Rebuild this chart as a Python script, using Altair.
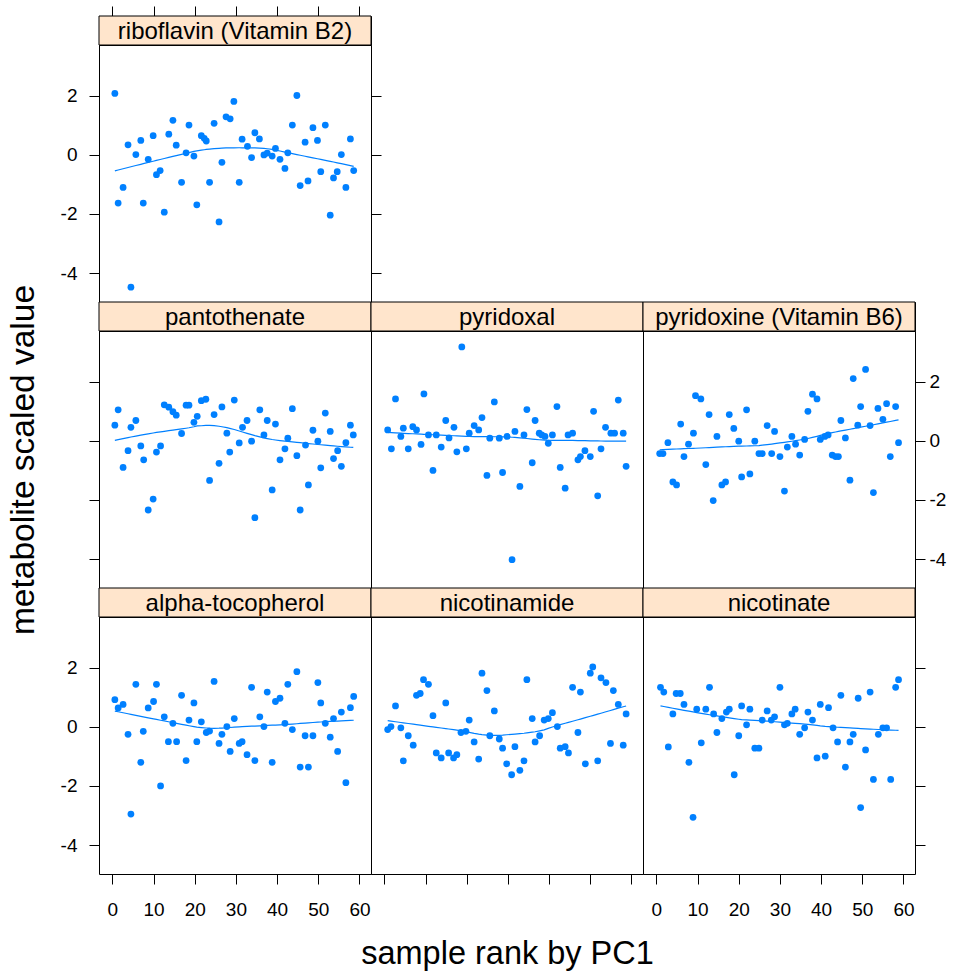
import altair as alt
import pandas as pd

# ---------------- data ----------------
ribo_x = [0.6,1.4,2.6,3.8,4.5,5.7,6.9,7.5,8.7,9.9,
          10.7,11.6,12.6,13.7,14.7,15.5,16.8,17.9,18.6,19.8,
          20.5,21.6,22.3,22.8,23.6,24.7,25.9,26.6,27.6,28.6,
          29.5,30.8,31.5,32.8,33.8,34.6,35.7,36.8,37.6,38.8,
          39.6,40.7,41.9,42.6,43.7,44.8,45.6,46.8,47.5,48.7,
          49.8,50.6,51.7,52.9,53.7,54.6,55.6,56.7,57.8,58.6]
ribo_y = [2.08,-1.63,-1.10,0.34,-4.48,0.01,0.49,-1.63,-0.15,0.65,
          -0.67,-0.53,-1.94,0.70,1.17,0.33,-0.93,0.07,1.01,-0.04,
          -1.69,0.65,0.56,0.47,-0.93,1.07,-2.27,-0.25,1.29,1.22,
          1.81,-0.93,0.53,0.29,-0.09,0.75,0.54,0.00,0.06,-0.04,
          0.22,-0.15,-0.46,0.07,1.01,2.01,-1.04,0.43,-0.88,0.92,
          0.49,-0.57,1.01,-2.04,-0.78,-0.57,0.01,-1.10,0.54,-0.53]

panto_x = [0.6,1.4,2.6,3.8,4.5,5.7,6.9,7.6,8.7,9.9,
           10.7,11.7,12.6,13.7,14.7,15.5,16.8,17.9,18.6,19.8,
           20.6,21.6,22.7,23.6,24.7,25.9,26.6,27.8,28.5,29.6,
           30.8,31.6,32.7,33.8,34.6,35.8,36.8,37.6,38.8,39.6,
           40.7,41.9,42.6,43.7,44.8,45.6,46.9,47.6,48.7,49.9,
           50.6,51.7,52.9,53.7,54.7,55.6,56.7,57.8,58.5]
panto_y = [0.53,1.05,-0.90,-0.33,0.46,0.69,-0.17,-0.64,-2.34,-1.97,
           -0.38,-0.17,1.22,1.14,0.99,0.87,0.25,1.21,1.21,0.63,
           0.83,1.36,1.41,-1.34,0.89,-0.76,1.15,0.26,-0.38,1.38,
           -0.07,0.46,0.69,-0.01,-2.60,1.05,0.20,0.69,-1.66,0.57,
           -0.64,-0.27,0.09,1.09,-0.50,-2.34,-0.14,-1.49,0.36,-0.01,
           -0.91,0.94,0.32,-0.60,-0.33,-0.86,-0.06,0.53,0.20]

pyral_x = [0.8,1.7,2.7,4.0,4.6,5.8,6.9,7.8,8.9,9.6,
           10.7,11.8,12.6,13.8,14.9,15.7,16.9,17.6,18.8,19.9,
           20.6,21.8,22.9,23.7,24.9,25.6,26.7,27.9,28.7,29.8,
           31.0,31.7,32.9,33.9,34.6,35.9,36.6,37.6,38.2,39.0,
           39.8,40.8,41.9,42.7,43.9,44.6,45.7,47.0,47.6,48.7,
           50.0,50.8,51.8,52.6,53.7,55.0,55.9,56.8,58.0,58.7]
pyral_y = [0.37,-0.27,1.42,0.15,0.43,-0.27,0.48,0.37,-0.12,1.59,
           0.20,-1.00,0.20,-0.21,0.69,0.10,0.46,-0.37,3.18,-0.27,
           0.26,0.52,0.37,0.79,-1.17,0.09,1.32,0.09,-1.07,0.15,
           -4.02,0.32,-1.54,0.20,1.06,-0.74,0.69,0.26,0.20,0.15,
           -0.08,0.20,1.16,-0.90,-1.60,0.20,0.26,-0.64,-0.53,-0.33,
           -0.53,1.00,-1.86,-0.27,0.46,0.26,0.26,1.38,0.26,-0.86]

pyrox_x = [0.8,1.6,2.8,4.0,4.9,5.9,6.7,7.8,9.0,9.5,
           10.8,12.0,12.8,13.8,14.7,15.9,16.8,17.7,18.8,20.0,
           20.7,21.9,22.7,23.9,24.9,25.7,26.9,28.0,28.7,30.0,
           31.1,31.8,32.9,33.8,34.8,36.0,36.8,37.9,39.0,39.8,
           40.9,41.7,42.7,43.5,44.2,44.8,45.9,47.0,47.8,48.9,
           49.6,50.8,51.9,52.7,53.8,55.0,55.9,56.8,58.1,58.8]
pyrox_y = [-0.43,-0.43,-0.06,-1.39,-1.49,0.57,-0.53,-0.11,0.26,1.53,
           1.42,-0.80,0.89,-2.02,0.15,-1.49,-1.39,0.89,0.42,-0.01,
           -1.22,1.05,-1.12,-0.01,-0.43,-0.43,0.52,-0.43,0.32,-0.53,
           -1.70,-0.21,0.15,-0.11,-0.48,0.05,1.00,1.58,1.42,0.05,
           0.15,0.20,-0.48,-0.53,-0.53,0.69,0.10,-1.33,2.11,0.53,
           1.16,2.42,0.52,-1.75,1.10,0.73,1.26,-0.53,1.16,-0.06]

atoc_x = [0.6,1.4,2.6,3.8,4.5,5.7,6.9,7.5,8.7,10.0,
          10.7,11.7,12.6,13.6,14.7,15.6,16.8,17.9,18.6,19.8,
          20.5,21.6,22.8,23.6,24.7,25.9,26.6,27.8,28.6,29.6,
          30.8,31.5,32.7,33.8,34.6,35.8,36.8,37.6,38.8,39.6,
          40.7,41.9,42.6,43.7,44.8,45.6,46.8,47.6,48.7,49.9,
          50.6,51.7,52.9,53.7,54.7,55.6,56.7,57.8,58.6]
atoc_y = [0.92,0.64,0.76,-0.25,-2.95,1.44,-1.20,-0.15,0.64,0.86,
          1.44,-2.00,0.34,-0.50,0.12,-0.50,1.07,-1.14,0.23,0.81,
          -0.50,0.17,-0.19,-0.14,1.54,-0.56,-0.25,0.01,-0.83,0.28,
          -0.56,-0.50,-0.94,1.34,-1.14,0.34,0.01,1.18,-1.20,0.86,
          0.97,0.12,1.44,-0.09,1.87,-1.36,-0.30,-1.36,-0.30,1.50,
          0.81,0.12,-0.35,0.28,-0.83,0.50,-1.89,0.65,1.03]

nicam_x = [0.8,1.6,2.7,4.0,4.6,5.8,7.0,7.8,8.7,9.5,
           10.7,11.8,12.6,13.8,14.9,15.6,16.8,17.6,18.6,19.8,
           20.6,21.8,22.9,23.7,24.9,25.6,26.7,27.9,28.7,29.7,
           30.9,31.7,32.9,33.9,34.6,35.9,36.6,37.7,38.8,39.8,
           40.8,42.0,42.7,43.9,44.7,45.7,47.0,47.6,48.8,50.0,
           50.6,51.8,52.6,53.8,54.9,55.6,56.8,58.0,58.7]
nicam_y = [-0.09,0.01,0.71,-0.03,-1.15,-0.30,-0.62,1.07,1.13,1.60,
           1.44,0.38,-0.88,-1.05,0.81,-0.88,-1.05,-0.94,-0.19,-0.15,
           0.23,-0.51,-1.09,1.82,1.23,-0.30,0.54,-0.41,-0.72,-1.25,
           -1.62,-0.67,-1.47,-1.15,1.60,0.28,-0.51,-0.30,0.23,0.28,
           0.48,0.01,-0.72,-0.67,-0.88,1.34,-0.19,1.18,-1.25,1.82,
           2.03,-1.15,1.66,1.50,-0.56,1.23,0.76,-0.62,0.44]

nicot_x = [1.0,1.8,2.9,4.0,4.8,5.8,6.7,7.9,8.9,9.8,
           10.9,12.0,12.9,13.9,14.7,15.9,17.0,17.7,18.9,20.0,
           20.7,21.9,22.7,23.9,24.9,25.7,26.9,27.9,28.7,30.0,
           31.1,31.8,32.9,33.7,34.8,36.0,36.8,37.9,39.0,39.8,
           41.0,41.8,42.9,44.0,44.8,45.9,47.0,47.8,49.0,49.6,
           50.8,51.9,52.7,53.9,55.0,55.9,56.9,58.1,58.8]
nicot_y = [1.34,1.18,-0.68,0.44,1.13,1.13,0.76,-1.20,-3.06,0.60,
           -0.54,0.60,1.34,0.44,-0.19,0.28,0.50,0.60,-1.62,-0.30,
           0.71,0.07,0.60,-0.72,-0.72,0.23,0.54,0.23,0.34,1.34,
           0.07,0.12,0.44,0.60,-0.25,-0.03,0.50,0.23,-1.05,0.76,
           -0.99,0.65,-0.03,-0.51,1.07,-1.36,-0.51,-0.25,0.97,-2.73,
           -0.78,1.18,-1.78,-0.25,-0.03,-0.03,-1.78,1.34,1.60]

x_ticks = [0, 10, 20, 30, 40, 50, 60]
y_ticks = [-4, -2, 0, 2]
x_title = "sample rank by PC1"
y_title = "metabolite scaled value"

# ---------------- styling ----------------
FONT = "Liberation Sans"
BLUE = "#0080ff"
STRIP = "#ffe5cc"
W, H, SH = 272, 257, 29
X_DOMAIN = [-3.25, 62.8]
Y_DOMAIN = [-4.98, 3.72]
xscale = alt.Scale(domain=X_DOMAIN, nice=False, zero=False)
yscale = alt.Scale(domain=Y_DOMAIN, nice=False, zero=False)
LABEL_EXPR = "'' + datum.value"
FRAME = alt.ViewBackground(stroke="black", strokeWidth=1)
NOFRAME = alt.ViewBackground(strokeOpacity=0)


def yaxis(orient, labels, title=None):
    kw = dict(orient=orient, values=y_ticks, labels=labels, labelExpr=LABEL_EXPR,
              tickSize=10, tickColor="black", tickWidth=1, domain=False, grid=False,
              labelFont=FONT, labelFontSize=19, labelColor="black",
              labelPadding=12 if orient == "left" else 4)
    if title:
        kw.update(title=title, titleFont=FONT, titleFontSize=33.5, titleFontWeight="normal",
                  titleColor="black", titlePadding=48)
    else:
        kw.update(title=None)
    return alt.Axis(**kw)


def xaxis(labels, title=None):
    kw = dict(orient="bottom", values=x_ticks, labels=labels, labelExpr=LABEL_EXPR,
              tickSize=10, tickColor="black", tickWidth=1, domain=False, grid=False,
              labelFont=FONT, labelFontSize=19, labelColor="black",
              labelPadding=16, labelFlush=False, labelOverlap=False)
    if title:
        kw.update(title=title, titleFont=FONT, titleFontSize=32.5, titleFontWeight="normal",
                  titleColor="black", titlePadding=53)
    else:
        kw.update(title=None)
    return alt.Axis(**kw)


def panel(xs, ys, yleft=None, yright=None, xbottom=None):
    df = pd.DataFrame({"x": xs, "y": ys})
    pts = alt.Chart(df).mark_circle(size=46, color=BLUE, opacity=1).encode(
        x=alt.X("x:Q", scale=xscale, axis=xbottom),
        y=alt.Y("y:Q", scale=yscale, axis=yleft),
    )
    line = alt.Chart(df).transform_loess(on="x", loess="y", bandwidth=0.7).mark_line(
        color=BLUE, strokeWidth=1.2).encode(
        x=alt.X("x:Q", scale=xscale, axis=None),
        y=alt.Y("y:Q", scale=yscale, axis=yright),
    )
    return alt.layer(pts, line).resolve_axis(x="independent", y="independent").properties(
        width=W, height=H, view=FRAME)


def strip(name, top_axis=False):
    df = pd.DataFrame({"label": [name]})
    rect = alt.Chart(df).mark_rect(fill=STRIP, stroke="black", strokeWidth=1).encode(
        x=alt.value(0), x2=alt.value(W), y=alt.value(0), y2=alt.value(SH))
    txt = alt.Chart(df).mark_text(font=FONT, fontSize=24, color="black",
                                  baseline="middle", align="center").encode(
        text="label:N", x=alt.value(W / 2), y=alt.value(SH / 2 + 1))
    layers = [rect, txt]
    if top_axis:
        tk = alt.Chart(pd.DataFrame({"x": x_ticks})).mark_point(opacity=0).encode(
            x=alt.X("x:Q", scale=xscale,
                    axis=alt.Axis(orient="top", values=x_ticks, labels=False, tickSize=10,
                                  tickColor="black", domain=False, grid=False, title=None)))
        layers.append(tk)
    return alt.layer(*layers).properties(width=W, height=SH, view=FRAME)


def blank(h):
    return alt.Chart(pd.DataFrame({"a": [0]})).mark_point(opacity=0).encode(
        x=alt.value(0), y=alt.value(0)).properties(width=W, height=h, view=NOFRAME)


cells = [
    strip("riboflavin (Vitamin B2)", top_axis=True), blank(SH), blank(SH),
    panel(ribo_x, ribo_y, yleft=yaxis("left", True), yright=yaxis("right", False)),
    blank(H), blank(H),
    strip("pantothenate"), strip("pyridoxal"), strip("pyridoxine (Vitamin B6)"),
    panel(panto_x, panto_y, yleft=yaxis("left", False, title=y_title)),
    panel(pyral_x, pyral_y),
    panel(pyrox_x, pyrox_y, yright=yaxis("right", True)),
    strip("alpha-tocopherol"), strip("nicotinamide"), strip("nicotinate"),
    panel(atoc_x, atoc_y, yleft=yaxis("left", True), xbottom=xaxis(True)),
    panel(nicam_x, nicam_y, xbottom=xaxis(False, title=x_title)),
    panel(nicot_x, nicot_y, yright=yaxis("right", False), xbottom=xaxis(True)),
]

chart = alt.concat(*cells, columns=3, spacing=0, bounds="flush").configure_view(
    stroke="black", strokeWidth=1).properties(background="white")

chart.save("out.html", embed_options={"renderer": "svg", "actions": False})
